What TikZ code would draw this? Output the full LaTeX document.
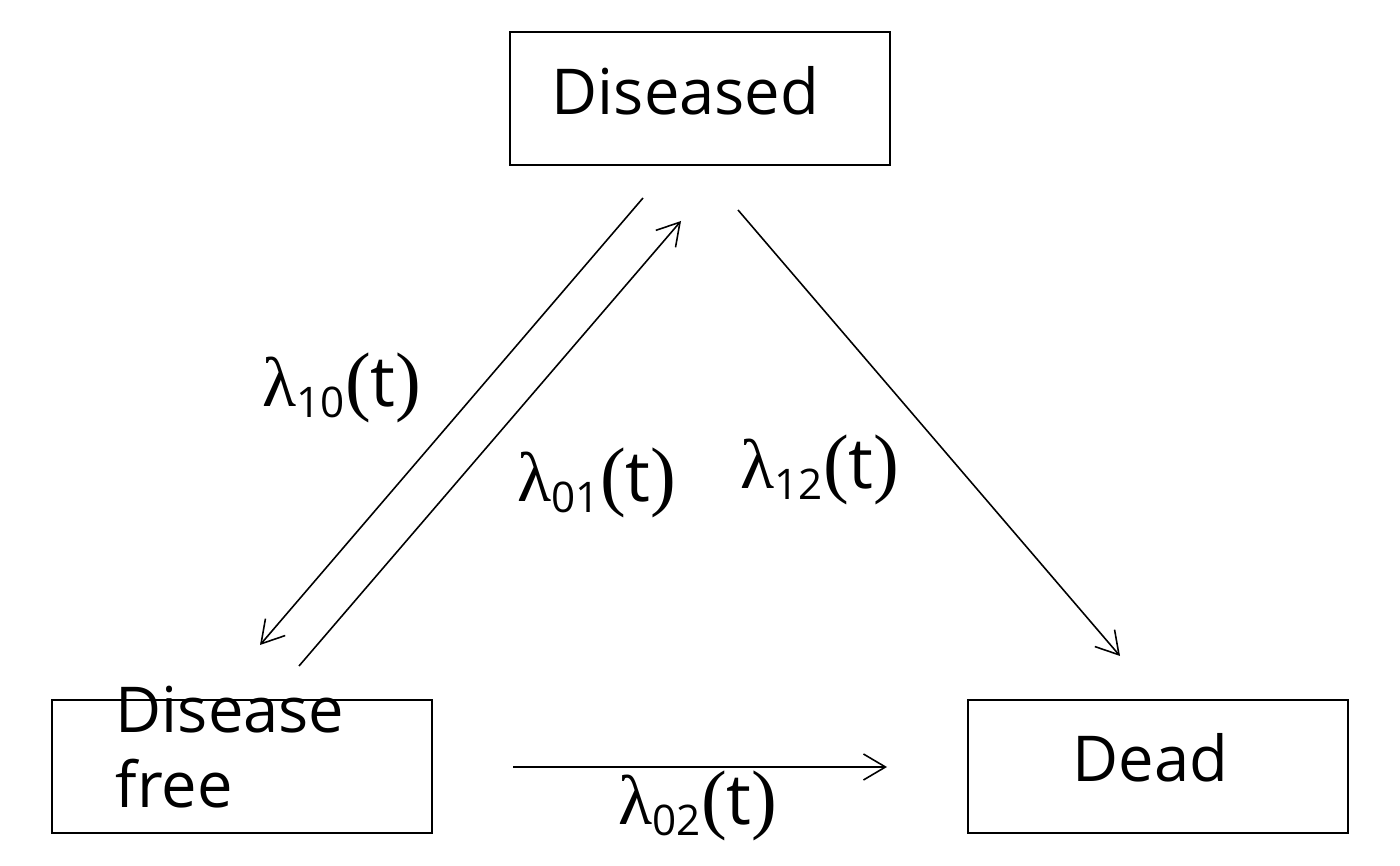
\documentclass[tikz,border=0pt]{standalone}
\usepackage{fontspec}
\setmainfont{Open Sans}
\newfontfamily\lamfont{Liberation Serif}
\usetikzlibrary{arrows.meta}
\newcommand{\hazard}[1]{{\lamfont λ}\raisebox{-3pt}{\fontsize{12}{14}\selectfont #1}{\lamfont\fontsize{22}{24}\selectfont(}t{\lamfont\fontsize{22}{24}\selectfont)}}
\tikzset{
	statebox/.style={draw, line width=0.5pt, minimum width=3.8cm, minimum height=1.33cm, inner sep=0pt},
	statetext/.style={font=\fontsize{18}{21.3}\selectfont, inner sep=0pt, anchor=base west},
	ratetext/.style={font=\fontsize{20}{24}\selectfont, inner sep=0pt, anchor=base west},
	trans/.style={line width=0.45pt, -{Straight Barb[length=2.2mm,width=2.6mm]}}
}

\begin{document}
\begin{tikzpicture}
			%%%%% START %%%%%
			\useasboundingbox (0, 0) rectangle (14, 8.66);
			
			\node[statebox] (diseased) at (7.00, 7.675) {};
			\node[statebox] (free) at (2.42, 0.995) {};
			\node[statebox] (dead) at (11.58, 0.995) {};
			
			\node[statetext] (diseasedtxt) at (5.51, 7.51) {Diseased};
			\node[statetext] (freetxt1) at (1.15, 1.33) {Disease};
			\node[statetext] (freetxt2) at (1.15, 0.58) {free};
			\node[statetext] (deadtxt) at (10.72, 0.84) {Dead};
			
			\coordinate (d10s) at (6.43, 6.68);
			\coordinate (d10e) at (2.60, 2.21);
			\coordinate (d01s) at (2.99, 2.00);
			\coordinate (d01e) at (6.81, 6.45);
			\coordinate (d12s) at (7.38, 6.56);
			\coordinate (d12e) at (11.20, 2.10);
			\coordinate (d02s) at (5.13, 0.99);
			\coordinate (d02e) at (8.87, 0.99);
			
			\draw[trans] (d10s) -- (d10e);
			\draw[trans] (d01s) -- (d01e);
			\draw[trans] (d12s) -- (d12e);
			\draw[trans] (d02s) -- (d02e);
			
			\node[ratetext] (r10) at (2.62, 4.59) {\hazard{10}};
			\node[ratetext] (r01) at (5.17, 3.64) {\hazard{01}};
			\node[ratetext] (r12) at (7.40, 3.77) {\hazard{12}};
			\node[ratetext] (r02) at (6.18, 0.41) {\hazard{02}};
			
			%%%%% END %%%%%
\end{tikzpicture}
\end{document}
